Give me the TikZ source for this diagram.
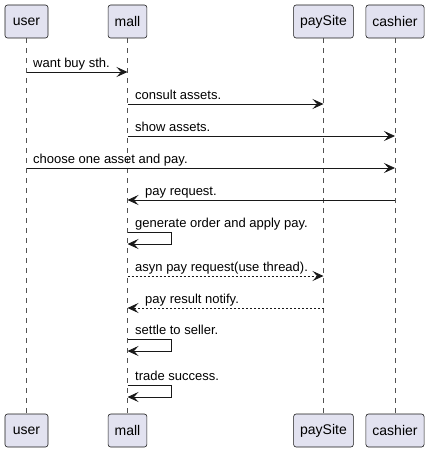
\documentclass[tikz,border=0pt]{standalone}
\usepackage{fontspec}
\setmainfont{Liberation Sans}
\usetikzlibrary{arrows.meta,calc}
\definecolor{boxfill}{HTML}{E2E2F0}
\definecolor{ink}{HTML}{181818}

\begin{document}
\begin{tikzpicture}[x=1pt,y=-1pt,
  actor/.style={draw=ink, fill=boxfill, rounded corners=2.5pt, line width=0.6pt,
    minimum height=33pt, inner xsep=6.5pt, font=\fontsize{14}{16}\selectfont},
  life/.style={draw=ink!75, line width=0.5pt, dash pattern=on 5pt off 5pt},
  msg/.style={draw=ink, line width=0.8pt,
    -{Stealth[length=11pt,width=10pt,inset=4.5pt]}},
  asyncmsg/.style={msg, dash pattern=on 2pt off 2pt},
  lbl/.style={anchor=base west, inner sep=0pt, font=\fontsize{13}{15}\selectfont}]
  \useasboundingbox (0,0) rectangle (430,452);

  % participants, top and bottom
  \node[actor, minimum width=43pt] (userT) at (26.5,21.5) {user};
  \node[actor] (mallT) at (127.5,21.5) {mall};
  \node[actor] (payT) at (323.5,21.5) {paySite};
  \node[actor] (cashT) at (395,21.5) {cashier};
  \node[actor, minimum width=43pt] (userB) at (26.5,430.5) {user};
  \node[actor] (mallB) at (127.5,430.5) {mall};
  \node[actor] (payB) at (323.5,430.5) {paySite};
  \node[actor] (cashB) at (395,430.5) {cashier};

  % lifelines
  \draw[life] (userT) -- (userB);
  \draw[life] (mallT) -- (mallB);
  \draw[life] (payT) -- (payB);
  \draw[life] (cashT) -- (cashB);

  % messages
  \draw[msg] (userT.south |- 0,72) -- (mallT.south |- 0,72);
  \node[lbl] (m1) at (33,67.5) {want buy sth.};
  \draw[msg] (mallT.south |- 0,104) -- (payT.south |- 0,104);
  \node[lbl] (m2) at (135,99.5) {consult assets.};
  \draw[msg] (mallT.south |- 0,136) -- (cashT.south |- 0,136);
  \node[lbl] (m3) at (135,131.5) {show assets.};
  \draw[msg] (userT.south |- 0,168) -- (cashT.south |- 0,168);
  \node[lbl] (m4) at (33,163.5) {choose one asset and pay.};
  \draw[msg] (cashT.south |- 0,200) -- (mallT.south |- 0,200);
  \node[lbl] (m5) at (145,195.5) {pay request.};

  \draw[msg] (mallT.south |- 0,232) -- ++(44,0) -- ++(0,12) -- ++(-44,0);
  \node[lbl] (m6) at (135,227.5) {generate order and apply pay.};

  \draw[asyncmsg] (mallT.south |- 0,276) -- (payT.south |- 0,276);
  \node[lbl] (m7) at (135,271.5) {asyn pay request(use thread).};
  \draw[asyncmsg] (payT.south |- 0,308) -- (mallT.south |- 0,308);
  \node[lbl] (m8) at (145,303.5) {pay result notify.};

  \draw[msg] (mallT.south |- 0,339) -- ++(44,0) -- ++(0,12) -- ++(-44,0);
  \node[lbl] (m9) at (135,334.5) {settle to seller.};
  \draw[msg] (mallT.south |- 0,385) -- ++(44,0) -- ++(0,12) -- ++(-44,0);
  \node[lbl] (m10) at (135,380.5) {trade success.};

\end{tikzpicture}
\end{document}
